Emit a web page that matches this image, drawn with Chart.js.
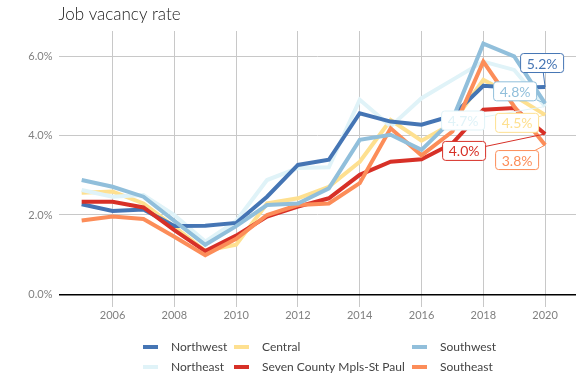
<!DOCTYPE html>
<html>
<head>
<meta charset="utf-8">
<script src="https://cdn.jsdelivr.net/npm/chart.js@4/dist/chart.umd.min.js"></script>
<style>
  html, body { margin: 0; padding: 0; background: #fff; }
  #wrap { position: relative; width: 576px; height: 384px; }
</style>
</head>
<body>
<div id="wrap"><canvas id="c" width="576" height="384"></canvas></div>
<script>
// ---- data ----
const years = [2005,2006,2007,2008,2009,2010,2011,2012,2013,2014,2015,2016,2017,2018,2019,2020];
const northwest   = [2.27,2.10,2.14,1.72,1.73,1.80,2.46,3.26,3.39,4.56,4.35,4.27,4.50,5.25,5.20,5.22];
const northeast   = [2.63,2.46,2.50,2.00,1.33,1.85,2.88,3.18,3.20,4.90,4.23,4.94,5.40,5.86,5.65,4.73];
const central     = [2.56,2.59,2.29,1.70,1.10,1.25,2.29,2.42,2.71,3.34,4.39,3.87,4.30,5.40,5.00,4.52];
const sevenCounty = [2.33,2.33,2.19,1.62,1.09,1.48,1.96,2.21,2.42,3.01,3.34,3.40,3.80,4.65,4.69,4.04];
const southeast   = [1.86,1.96,1.90,1.45,0.99,1.40,2.00,2.25,2.29,2.80,4.18,3.50,4.10,5.86,4.73,3.76];
const southwest   = [2.88,2.71,2.46,1.85,1.25,1.72,2.25,2.29,2.67,3.89,4.02,3.64,4.40,6.31,5.99,4.81];
const seriesNames = ["Northwest","Northeast","Central","Seven County Mpls-St Paul","Southwest","Southeast"];
const xTicks = [2006,2008,2010,2012,2014,2016,2018,2020];
const yTicks = [0,2,4,6];
const titleText = "Job vacancy rate";

// ---- styles ----
const colors = {
  "Northwest": "#4575b4",
  "Northeast": "#e0f3f8",
  "Central": "#fee090",
  "Seven County Mpls-St Paul": "#d73027",
  "Southwest": "#91bfdb",
  "Southeast": "#fc8d59"
};
const values = {
  "Northwest": northwest, "Northeast": northeast, "Central": central,
  "Seven County Mpls-St Paul": sevenCounty, "Southwest": southwest, "Southeast": southeast
};
// drawing order: first in list drawn on top
const drawOrder = ["Southwest","Southeast","Seven County Mpls-St Paul","Northwest","Northeast","Central"];
// label box offsets (pixels) from the last point
const labelOffsets = {
  "Northwest": [-3, -24],
  "Southwest": [-30, -12],
  "Northeast": [-82, 14],
  "Central": [-28, 8],
  "Seven County Mpls-St Paul": [-81, 17],
  "Southeast": [-28, 15]
};
const FONT = "Lato, 'Open Sans', sans-serif";

const datasets = drawOrder.map(name => ({
  label: name,
  data: years.map((y, i) => ({x: y, y: values[name][i]})),
  borderColor: colors[name],
  backgroundColor: colors[name],
  borderWidth: 4,
  pointRadius: 0,
  tension: 0,
  borderJoinStyle: 'miter',
  borderCapStyle: 'butt'
}));

function roundRect(ctx, x, y, w, h, r) {
  ctx.beginPath();
  ctx.moveTo(x + r, y);
  ctx.lineTo(x + w - r, y);
  ctx.arcTo(x + w, y, x + w, y + r, r);
  ctx.lineTo(x + w, y + h - r);
  ctx.arcTo(x + w, y + h, x + w - r, y + h, r);
  ctx.lineTo(x + r, y + h);
  ctx.arcTo(x, y + h, x, y + h - r, r);
  ctx.lineTo(x, y + r);
  ctx.arcTo(x, y, x + r, y, r);
  ctx.closePath();
}

const decorPlugin = {
  id: 'decor',
  afterDatasetsDraw(chart) {
    const ctx = chart.ctx;
    const bw = 43, bh = 19;
    chart.data.datasets.forEach((ds, di) => {
      const meta = chart.getDatasetMeta(di);
      const pt = meta.data[meta.data.length - 1];
      const name = ds.label;
      const off = labelOffsets[name];
      const cx = pt.x + off[0], cy = pt.y + off[1];
      const col = colors[name];
      const dx = pt.x - cx, dy = pt.y - cy;
      const s = Math.min(Math.abs(dx) > 0 ? (bw/2) / Math.abs(dx) : Infinity,
                         Math.abs(dy) > 0 ? (bh/2) / Math.abs(dy) : Infinity);
      if (s < 1) {
        ctx.save();
        ctx.strokeStyle = col;
        ctx.lineWidth = 1;
        ctx.beginPath();
        ctx.moveTo(cx + dx * s, cy + dy * s);
        ctx.lineTo(pt.x, pt.y);
        ctx.stroke();
        ctx.restore();
      }
    });
    chart.data.datasets.forEach((ds, di) => {
      const meta = chart.getDatasetMeta(di);
      const pt = meta.data[meta.data.length - 1];
      const name = ds.label;
      const off = labelOffsets[name];
      const cx = pt.x + off[0], cy = pt.y + off[1];
      const col = colors[name];
      ctx.save();
      roundRect(ctx, cx - bw/2, cy - bh/2, bw, bh, 3);
      ctx.fillStyle = '#ffffff';
      ctx.fill();
      ctx.strokeStyle = col;
      ctx.lineWidth = 1;
      ctx.stroke();
      ctx.fillStyle = col;
      ctx.font = "14px " + FONT;
      ctx.textAlign = 'center';
      ctx.textBaseline = 'middle';
      const v = values[name][values[name].length - 1];
      ctx.fillText(v.toFixed(1) + '%', cx, cy + 1);
      ctx.restore();
    });
  },
  afterDraw(chart) {
    const ctx = chart.ctx;
    ctx.save();
    ctx.fillStyle = '#1a1a1a';
    ctx.font = "300 17px " + FONT;
    ctx.textAlign = 'left';
    ctx.textBaseline = 'alphabetic';
    ctx.fillText(titleText, chart.chartArea.left, 20);
    const colX = [143, 234, 412];
    const rowY = [347, 367];
    ctx.font = "12px " + FONT;
    ctx.textBaseline = 'middle';
    seriesNames.forEach((name, i) => {
      const c = Math.floor(i / 2), r = i % 2;
      ctx.fillStyle = colors[name];
      ctx.fillRect(colX[c], rowY[r] - 2, 15, 4);
      ctx.fillStyle = '#444444';
      ctx.fillText(name, colX[c] + 28, rowY[r] + 0.5);
    });
    ctx.restore();
  }
};

new Chart(document.getElementById('c'), {
  type: 'line',
  data: { datasets },
  options: {
    responsive: false,
    animation: false,
    devicePixelRatio: 1,
    layout: { padding: { top: 31, right: 0, left: 0, bottom: 0 } },
    plugins: { legend: { display: false }, tooltip: { enabled: false }, title: { display: false } },
    scales: {
      x: {
        type: 'linear',
        min: 2004.25,
        max: 2021,
        afterBuildTicks: s => { s.ticks = xTicks.map(v => ({value: v})); },
        afterFit: s => { s.height = 77; },
        ticks: {
          callback: v => String(v),
          color: '#808080',
          font: { family: FONT, size: 11 },
          padding: 2,
          maxRotation: 0,
          autoSkip: false
        },
        grid: { color: '#c8c8c8', lineWidth: 1, drawTicks: false },
        border: { display: false }
      },
      y: {
        type: 'linear',
        min: -0.3155,
        max: 6.63,
        afterBuildTicks: s => { s.ticks = yTicks.map(v => ({value: v})); },
        afterFit: s => { s.width = 58.5; },
        ticks: {
          callback: v => v.toFixed(1) + '%',
          color: '#808080',
          font: { family: FONT, size: 11 },
          padding: 6
        },
        grid: {
          color: c => (c.tick && c.tick.value === 0) ? '#000000' : '#c8c8c8',
          lineWidth: c => (c.tick && c.tick.value === 0) ? 1.5 : 1,
          drawTicks: false
        },
        border: { display: false }
      }
    }
  },
  plugins: [decorPlugin]
});
</script>
</body>
</html>
